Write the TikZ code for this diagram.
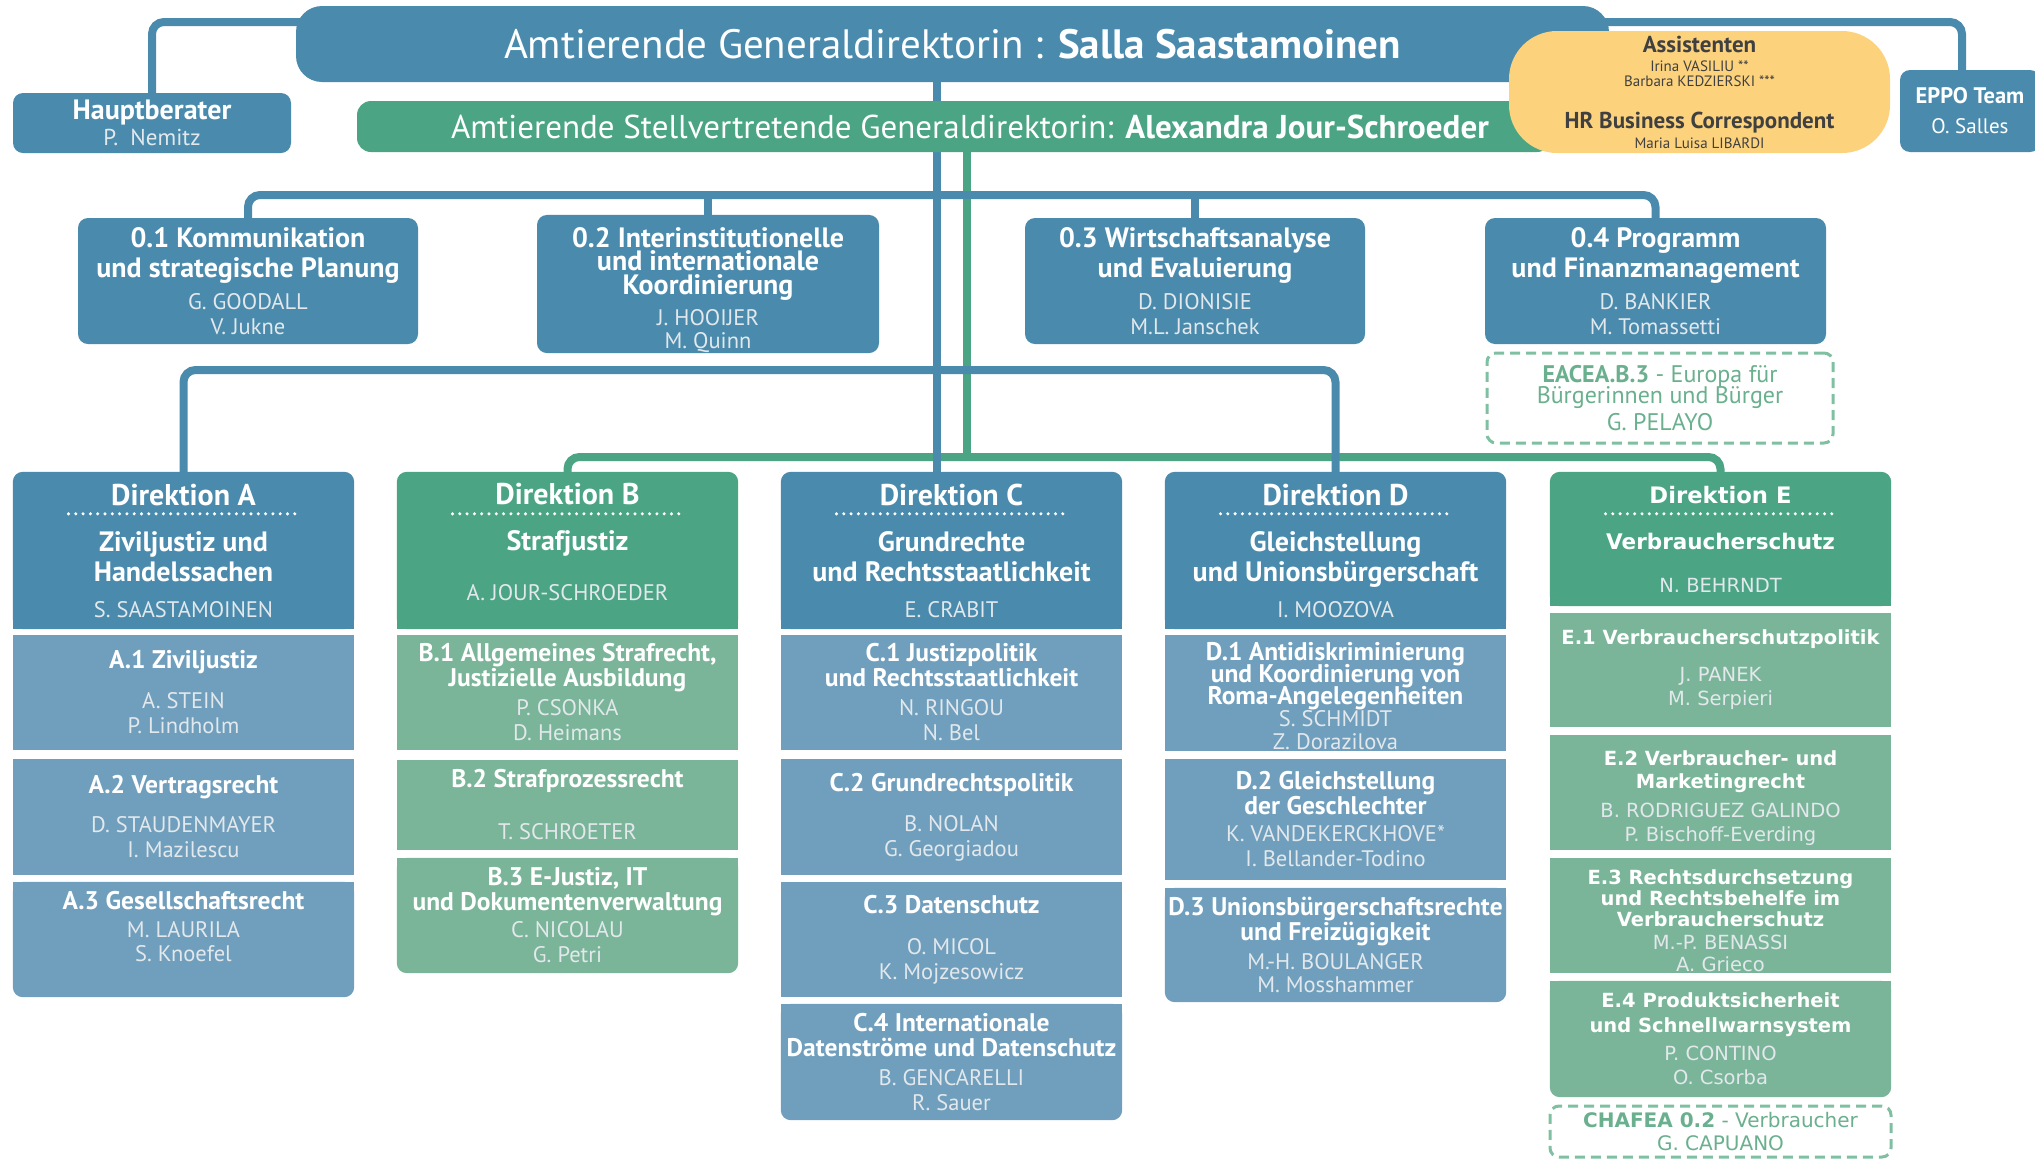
\documentclass[tikz,border=0pt]{standalone}
\usepackage{fontspec}
\setmainfont{PT Sans}
\newfontfamily\efont{DejaVu Sans}
\usetikzlibrary{calc}
\definecolor{bh}{RGB}{74,139,173}
\definecolor{bs}{RGB}{112,159,189}
\definecolor{gh}{RGB}{75,165,132}
\definecolor{gs}{RGB}{122,181,153}
\definecolor{yel}{RGB}{252,210,125}
\definecolor{namecol}{RGB}{226,232,236}
\definecolor{dashc}{RGB}{128,192,162}
\definecolor{dtext}{RGB}{106,176,142}
\definecolor{ytext}{RGB}{64,64,64}
\pgfdeclarelayer{conn}
\pgfdeclarelayer{bg}
\pgfsetlayers{conn,bg,main}
\setlength{\lineskiplimit}{-60pt}
\newcommand\nmx[1]{{\fontsize{22.5}{25}\selectfont\mdseries\color{namecol}#1}}
\newcommand\enmx[1]{{\fontsize{19.5}{24}\selectfont\mdseries\color{namecol}#1}}
\newcommand\dlab[1]{{\fontsize{30}{30}\selectfont #1}}
\newcommand\dpx[1]{\rule[-#1]{0pt}{#1}}
\newcommand\htx[1]{\rule{0pt}{#1}}
\newcommand\dgTop[2]{\begin{pgfonlayer}{bg}\fill[#2,rounded corners=10pt] (#1.south west) rectangle (#1.north east);\fill[#2] (#1.south west) rectangle (#1.east);\end{pgfonlayer}}
\newcommand\dgMid[2]{\begin{pgfonlayer}{bg}\fill[#2] (#1.south west) rectangle (#1.north east);\end{pgfonlayer}}
\newcommand\dgBot[2]{\begin{pgfonlayer}{bg}\fill[#2,rounded corners=10pt] (#1.south west) rectangle (#1.north east);\fill[#2] (#1.west) rectangle (#1.north east);\end{pgfonlayer}}
\tikzset{
  conn/.style={draw=bh, line width=8pt, rounded corners=12pt},
  gconn/.style={draw=gh, line width=8pt, rounded corners=12pt},
  rbox/.style={inner sep=0pt, align=center, text=white, rounded corners=10pt},
  cell/.style={inner sep=0pt, align=center, text=white, minimum width=341pt},
  dbox/.style={inner sep=0pt, align=center, text=dtext, draw=dashc, line width=3pt, dash pattern=on 10pt off 6pt, rounded corners=9pt, fill=white},
  dotl/.style={draw=white, line width=3.4pt, line cap=round, dash pattern=on 0pt off 7.3pt},
  hfont/.style={font=\fontsize{28}{30}\selectfont\bfseries},
  sfont/.style={font=\fontsize{25.5}{25}\selectfont\bfseries},
  ehfont/.style={font=\efont\fontsize{21.5}{25}\selectfont\bfseries},
  esfont/.style={font=\efont\fontsize{19.5}{24}\selectfont\bfseries},
}
\begin{document}
\begin{tikzpicture}[x=1pt,y=-1pt]
\useasboundingbox (0,0) rectangle (2035,1160);

% top level
\node[rbox, fill=bh, minimum width=1313pt, minimum height=76pt, rounded corners=26pt, font=\fontsize{41}{44}\selectfont] (title) at (952.5,44) {Amtierende Generaldirektorin : \textbf{Salla Saastamoinen}};
\node[rbox, fill=bh, minimum width=278pt, minimum height=60pt, font=\fontsize{28}{27}\selectfont\bfseries] (hb) at (152,123) {Hauptberater\\[-1pt]{\fontsize{23}{27}\selectfont\mdseries\color{namecol}P.\ \ Nemitz}};
\node[rbox, fill=gh, minimum width=1194pt, minimum height=51pt, rounded corners=14pt, font=\fontsize{33}{36}\selectfont] (dep) at (954,126.5) {\hspace*{32pt}Amtierende Stellvertretende Generaldirektorin: \textbf{Alexandra Jour-Schroeder}};
\node[inner sep=0pt, align=center, fill=yel, rounded corners=48pt, minimum width=381pt, minimum height=122pt, text=ytext, font=\fontsize{15}{15}\selectfont] (asst) at (1699.5,92) {{\fontsize{23}{15}\selectfont\bfseries Assistenten}\\[4pt]Irina VASILIU **\\Barbara KEDZIERSKI ***\\[27pt]{\fontsize{23}{15}\selectfont\bfseries HR Business Correspondent}\\[5pt]Maria Luisa LIBARDI};
\node[rbox, fill=bh, minimum width=140pt, minimum height=82pt, font=\fontsize{21}{25}\selectfont] (eppo) at (1970,111) {{\fontsize{22.5}{25}\selectfont\bfseries EPPO Team}\\[5pt]O. Salles};

% staff units
\node[rbox, fill=bh, minimum width=340pt, minimum height=126pt, hfont] (u01) at (248,281) {0.1 Kommunikation\\und strategische Planung\\[2pt]\nmx{G. GOODALL}\\[-5pt]\nmx{V. Jukne}};
\node[rbox, fill=bh, minimum width=342pt, minimum height=132pt, hfont] (u02) at (708,284) {\htx{33pt}0.2 Interinstitutionelle\\[-7pt]und internationale\\[-6pt]Koordinierung\\[1pt]\nmx{J. HOOIJER}\\[-7pt]\nmx{M. Quinn}};
\node[rbox, fill=bh, minimum width=340pt, minimum height=126pt, hfont] (u03) at (1195,281) {0.3 Wirtschaftsanalyse\\und Evaluierung\\[2pt]\nmx{D. DIONISIE}\\[-5pt]\nmx{M.L. Janschek}};
\node[rbox, fill=bh, minimum width=341pt, minimum height=126pt, hfont] (u04) at (1655.5,281) {0.4 Programm\\und Finanzmanagement\\[2pt]\nmx{D. BANKIER}\\[-5pt]\nmx{M. Tomassetti}};
\node[dbox, minimum width=346pt, minimum height=90pt, font=\fontsize{24}{24}\selectfont] (eacea) at (1660,398) {\textbf{EACEA.B.3} - Europa für\\[-3pt]Bürgerinnen und Bürger\\[3pt]G. PELAYO};

% directorate A
\node[cell, minimum height=157pt, hfont] (dA) at (183.5,550.5) {\dlab{Direktion A}\\[16pt]Ziviljustiz und\\Handelssachen\\[6pt]\nmx{S. SAASTAMOINEN}};
\node[cell, minimum height=115pt, sfont] (A1) at (183.5,692.5) {A.1 Ziviljustiz\\[15pt]\nmx{A. STEIN}\\\nmx{P. Lindholm}};
\node[cell, minimum height=116pt, sfont] (A2) at (183.5,817) {A.2 Vertragsrecht\\[14pt]\nmx{D. STAUDENMAYER}\\\nmx{I. Mazilescu}};
\node[cell, minimum height=115pt, sfont] (A3) at (183.5,939.5) {A.3 Gesellschaftsrecht\\[3pt]\nmx{M. LAURILA}\\[-1pt]\nmx{S. Knoefel}\dpx{26pt}};
% directorate B
\node[cell, minimum height=157pt, hfont] (dB) at (567.5,550.5) {\dlab{Direktion B}\\[16pt]Strafjustiz\\[20pt]\nmx{A. JOUR-SCHROEDER}\dpx{18pt}};
\node[cell, minimum height=115pt, sfont] (B1) at (567.5,692.5) {B.1 Allgemeines Strafrecht,\\Justizielle Ausbildung\\[4pt]\nmx{P. CSONKA}\\\nmx{D. Heimans}};
\node[cell, minimum height=90pt, sfont] (B2) at (567.5,805) {B.2 Strafprozessrecht\\[27pt]\nmx{T. SCHROETER}};
\node[cell, minimum height=115pt, sfont] (B3) at (567.5,915.5) {B.3 E-Justiz, IT\\und Dokumentenverwaltung\\[2pt]\nmx{C. NICOLAU}\\\nmx{G. Petri}};
% directorate C
\node[cell, minimum height=157pt, hfont] (dC) at (951.5,550.5) {\dlab{Direktion C}\\[16pt]Grundrechte\\und Rechtsstaatlichkeit\\[6pt]\nmx{E. CRABIT}};
\node[cell, minimum height=115pt, sfont] (C1) at (951.5,692.5) {C.1 Justizpolitik\\und Rechtsstaatlichkeit\\[4pt]\nmx{N. RINGOU}\\\nmx{N. Bel}};
\node[cell, minimum height=116pt, sfont] (C2) at (951.5,817) {C.2 Grundrechtspolitik\\[15pt]\nmx{B. NOLAN}\\\nmx{G. Georgiadou}};
\node[cell, minimum height=115pt, sfont] (C3) at (951.5,939.5) {C.3 Datenschutz\\[16pt]\nmx{O. MICOL}\\\nmx{K. Mojzesowicz}};
\node[cell, minimum height=116pt, sfont] (C4) at (951.5,1062) {C.4 Internationale\\Datenströme und Datenschutz\\[4pt]\nmx{B. GENCARELLI}\\\nmx{R. Sauer}};
% directorate D
\node[cell, minimum height=157pt, hfont] (dD) at (1335.5,550.5) {\dlab{Direktion D}\\[16pt]Gleichstellung\\und Unionsbürgerschaft\\[6pt]\nmx{I. MOOZOVA}};
\node[cell, minimum height=116pt, sfont] (D1) at (1335.5,693) {\htx{24pt}D.1 Antidiskriminierung\\[-3pt]und Koordinierung von\\[-3pt]Roma-Angelegenheiten\\[-3pt]\nmx{S. SCHMIDT}\\[-2pt]\nmx{Z. Dorazilova}};
\node[cell, minimum height=121pt, sfont] (D2) at (1335.5,819.5) {D.2 Gleichstellung\\der Geschlechter\\[2pt]\nmx{K. VANDEKERCKHOVE*}\\\nmx{I. Bellander-Todino}};
\node[cell, minimum height=114pt, sfont] (D3) at (1335.5,945) {D.3 Unionsbürgerschaftsrechte\\und Freizügigkeit\\[4pt]\nmx{M.-H. BOULANGER}\\[-2pt]\nmx{M. Mosshammer}};
% directorate E
\node[cell, minimum height=134pt, ehfont] (dE) at (1720.5,539) {{\fontsize{22.7}{25}\selectfont Direktion E}\\[21pt]Verbraucherschutz\\[18pt]\enmx{N. BEHRNDT}};
\node[cell, minimum height=114pt, esfont] (E1) at (1720.5,670) {E.1 Verbraucherschutzpolitik\\[13pt]\enmx{J. PANEK}\\\enmx{M. Serpieri}};
\node[cell, minimum height=115pt, esfont] (E2) at (1720.5,792.5) {\htx{26pt}E.2 Verbraucher- und\\[-1pt]Marketingrecht\\[5pt]\enmx{B. RODRIGUEZ GALINDO}\\\enmx{P. Bischoff-Everding}};
\node[cell, minimum height=115pt, esfont] (E3) at (1720.5,915.5) {\htx{25pt}E.3 Rechtsdurchsetzung\\[-3pt]und Rechtsbehelfe im\\[-3pt]Verbraucherschutz\\[-1pt]\enmx{M.-P. BENASSI}\\[-2pt]\enmx{A. Grieco}};
\node[cell, minimum height=116pt, esfont] (E4) at (1720.5,1039) {E.4 Produktsicherheit\\[1pt]und Schnellwarnsystem\\[4pt]\enmx{P. CONTINO}\\\enmx{O. Csorba}};
\node[dbox, minimum width=341pt, minimum height=51pt, font=\efont\fontsize{20}{23}\selectfont] (chafea) at (1720.5,1131.5) {\textbf{CHAFEA 0.2} - Verbraucher\\G. CAPUANO};

% fills
\dgTop{dA}{bh}\dgMid{A1}{bs}\dgMid{A2}{bs}\dgBot{A3}{bs}
\dgTop{dB}{gh}\dgMid{B1}{gs}\dgMid{B2}{gs}\dgBot{B3}{gs}
\dgTop{dC}{bh}\dgMid{C1}{bs}\dgMid{C2}{bs}\dgMid{C3}{bs}\dgBot{C4}{bs}
\dgTop{dD}{bh}\dgMid{D1}{bs}\dgMid{D2}{bs}\dgBot{D3}{bs}
\dgTop{dE}{gh}\dgMid{E1}{gs}\dgMid{E2}{gs}\dgMid{E3}{gs}\dgBot{E4}{gs}

% dotted separators
\foreach \d in {dA,dB,dC,dD,dE}{
  \draw[dotl] ([xshift=-115pt,yshift=-42pt]\d.north) -- ([xshift=115pt,yshift=-42pt]\d.north);
}

% connectors
\begin{pgfonlayer}{conn}
\coordinate (topy) at (0,22);
\coordinate (obus) at (0,195);
\coordinate (abus) at (0,370);
\coordinate (gbus) at (0,457);
\coordinate (spine) at (937,82);
\coordinate (gspine) at (967,152);
\draw[conn] (hb.north) |- ([xshift=30pt]title.west |- topy);
\draw[conn] ([xshift=-30pt]title.east |- topy) -| ([xshift=-8pt]eppo.north);
\draw[gconn] (gspine) -- (gspine |- gbus);
\draw[gconn] (dB.north) |- (dE.north |- gbus) -- (dE.north);
\draw[conn] (spine) -- (spine |- dC.north);
\draw[conn] (u01.north) |- (u04.north |- obus) -- (u04.north);
\draw[conn] (u02.north) -- (u02.north |- obus);
\draw[conn] (u03.north) -- (u03.north |- obus);
\draw[conn] (dA.north) |- (dD.north |- abus) -- (dD.north);
\end{pgfonlayer}
\end{tikzpicture}
\end{document}
